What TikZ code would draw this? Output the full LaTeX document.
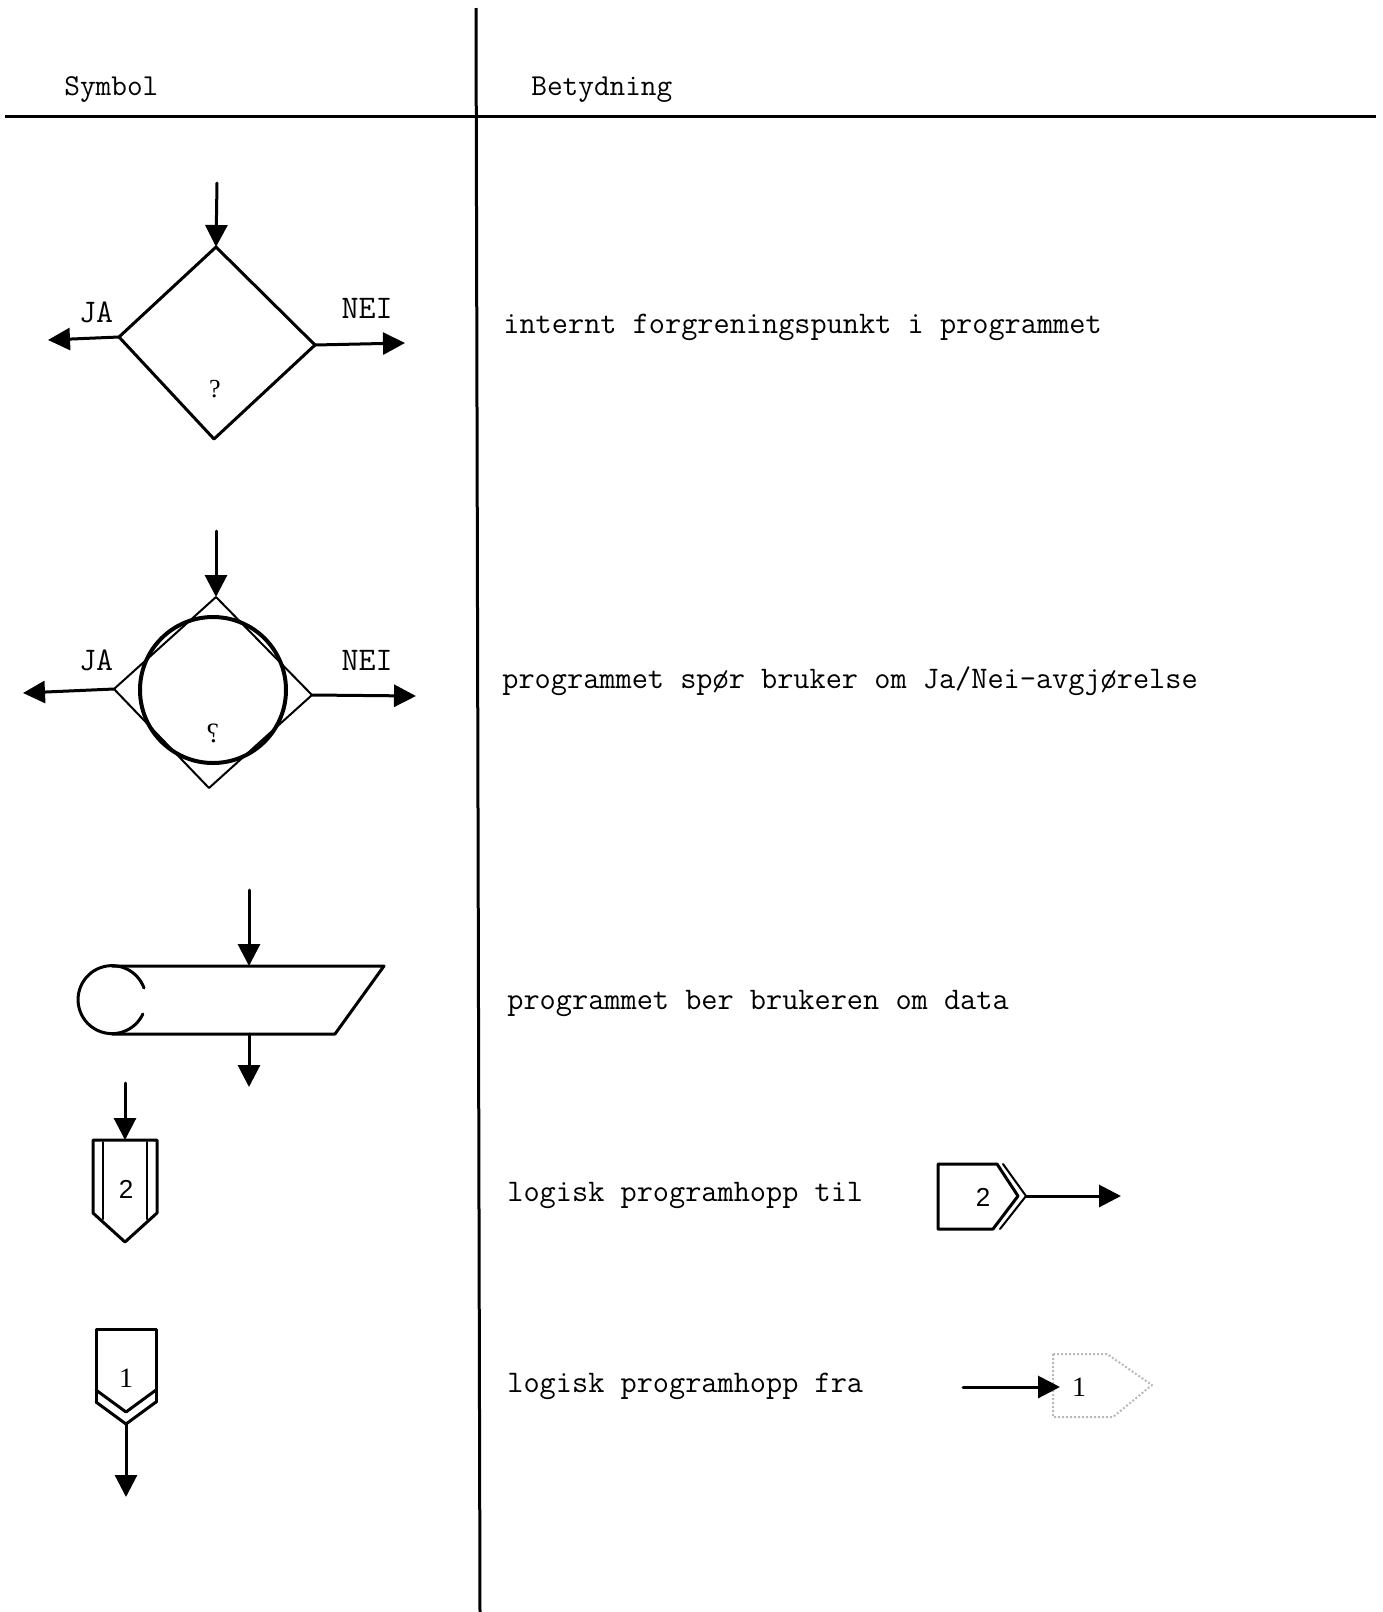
\documentclass[tikz,border=0pt]{standalone}
\usepackage{fontspec}
\usepackage{graphicx}
\newfontfamily\sansf{Liberation Sans}
\newfontfamily\serf{Liberation Serif}
\usetikzlibrary{arrows.meta}
\begin{document}
\begin{tikzpicture}[x=0.5pt,y=-0.5pt,
  rule/.style={line width=1.5pt},
  ln/.style={line width=1.5pt,line cap=round,line join=round},
  thin ln/.style={line width=1pt,line cap=round,line join=round},
  arr/.style={ln,-{Triangle[length=11pt,width=11pt]}},
  txt/.style={font=\ttfamily\fontsize{15.7}{18}\selectfont,anchor=base west,inner sep=0pt},
  hdr/.style={font=\ttfamily\fontsize{15.2}{18}\selectfont,anchor=base west,inner sep=0pt},
  lab/.style={font=\ttfamily\fontsize{16.5}{18}\selectfont,inner sep=0pt},
  num/.style={font=\sansf\fontsize{13}{15}\selectfont,inner sep=0pt},
  numb/.style={font=\serf\fontsize{14}{15}\selectfont,inner sep=0pt},
  faint/.style={line width=1pt,gray!55,densely dotted,line join=round}]
\useasboundingbox (0,0) rectangle (1382,1612);
% table rules
\coordinate (vt) at (476,8); \coordinate (vb) at (480,1612);
\coordinate (hl) at (5,116); \coordinate (hr) at (1376,116);
\draw[rule] (vt) -- (vb);
\draw[rule] (hl) -- (hr);
\node[hdr] (symh) at (64,95) {Symbol};
\node[hdr] (beth) at (531,95) {Betydning};
% texts
\node[txt] (t1) at (503,333) {internt forgreningspunkt i programmet};
\node[txt] (t2) at (502,688) {programmet spør bruker om Ja/Nei-avgjørelse};
\node[txt] (t3) at (507,1009) {programmet ber brukeren om data};
\node[txt] (t4) at (507,1201) {logisk programhopp til};
\node[txt] (t5) at (507,1392) {logisk programhopp fra};
% diamond 1
\coordinate (d1t) at (216,247); \coordinate (d1l) at (119,337);
\coordinate (d1r) at (315,345); \coordinate (d1b) at (214,439);
\draw[ln] (d1t) -- (d1r) -- (d1b) -- (d1l) -- cycle;
\coordinate (d1in) at (217,183);
\coordinate (d1ja) at (48,340);
\coordinate (d1nei) at (405,343);
\draw[arr] (d1in) -- (d1t);
\draw[arr] (d1l) -- (d1ja);
\draw[arr] (d1r) -- (d1nei);
\node[lab] (ja1) at (96,312) {JA};
\node[lab] (nei1) at (367,308) {NEI};
\node[font=\serf\fontsize{13}{15}\selectfont,inner sep=0pt] (q1) at (215,389) {?};
% diamond 2 with circle
\coordinate (d2t) at (216,597); \coordinate (d2l) at (114,689);
\coordinate (d2r) at (312,695); \coordinate (d2b) at (209,788);
\draw[thin ln] (d2t) -- (d2r) -- (d2b) -- (d2l) -- cycle;
\coordinate (d2c) at (213,690);
\draw[line width=2pt] (d2c) circle[radius=73];
\coordinate (d2in) at (216,531);
\coordinate (d2ja) at (23,693);
\coordinate (d2nei) at (416,696);
\draw[arr] (d2in) -- (d2t);
\draw[arr] (d2l) -- (d2ja);
\draw[arr] (d2r) -- (d2nei);
\node[lab] (ja2) at (96,660) {JA};
\node[lab] (nei2) at (367,660) {NEI};
\node[font=\serf\fontsize{14}{15}\selectfont,inner sep=0pt] (q2) at (213,733) {\reflectbox{?}};
% input symbol
\coordinate (s3tl) at (112,966); \coordinate (s3tr) at (384,966);
\coordinate (s3br) at (335,1034); \coordinate (s3bl) at (112,1034);
\draw[ln] (s3tl) -- (s3tr) -- (s3br) -- (s3bl);
\draw[ln] (144,988) arc[start angle=-20,end angle=-335,radius=34];
\coordinate (s3in) at (249,890); \coordinate (s3top) at (249,966);
\coordinate (s3bot) at (249,1034); \coordinate (s3out) at (249,1087);
\draw[arr] (s3in) -- (s3top);
\draw[arr] (s3bot) -- (s3out);
% connector to (row 4 left)
\coordinate (c4in) at (125,1083); \coordinate (c4t) at (125,1140);
\draw[ln] (93,1140) -- (157,1140) -- (157,1213) -- (125,1242) -- (93,1213) -- cycle;
\draw[thin ln] (103,1142) -- (103,1219);
\draw[thin ln] (147,1142) -- (147,1219);
\draw[arr] (c4in) -- (c4t);
\node[num] (n2a) at (126,1189) {2};
% connector from (row 5 left)
\draw[ln] (96,1402) -- (96,1329) -- (156,1329) -- (156,1402);
\draw[ln] (96,1390) -- (126,1412) -- (156,1390);
\draw[ln] (96,1402) -- (126,1424) -- (156,1402);
\coordinate (c5b) at (126,1424); \coordinate (c5out) at (126,1497);
\draw[arr] (c5b) -- (c5out);
\node[numb] (n1a) at (126,1378) {1};
% right icon row 4
\draw[ln] (938,1164) -- (997,1164) -- (1018,1196) -- (993,1229) -- (938,1229) -- cycle;
\draw[thin ln] (1003,1164) -- (1026,1196) -- (1000,1229);
\coordinate (r4tip) at (1026,1196); \coordinate (r4end) at (1121,1196);
\draw[arr] (r4tip) -- (r4end);
\node[num] (n2b) at (983,1197) {2};
% right icon row 5
\draw[faint] (1053,1354) -- (1107,1354) -- (1152,1385) -- (1113,1417) -- (1053,1417) -- cycle;
\coordinate (r5start) at (963,1387); \coordinate (r5tip) at (1060,1387);
\draw[arr] (r5start) -- (r5tip);
\node[numb] (n1b) at (1079,1387) {1};
\end{tikzpicture}
\end{document}
